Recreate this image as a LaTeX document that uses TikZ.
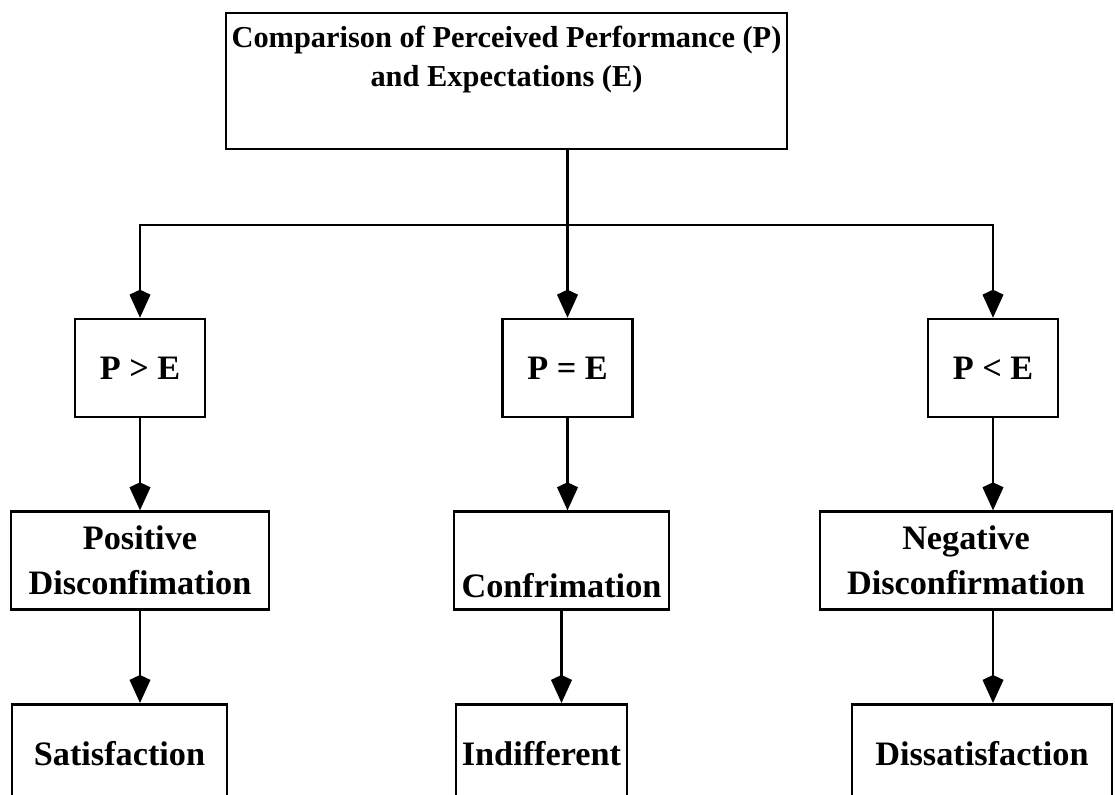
\documentclass[tikz,border=0pt]{standalone}
\usepackage{fontspec}
\setmainfont{Liberation Serif}
\usetikzlibrary{arrows.meta,positioning}

\newcommand{\boxfont}{\fontsize{19.5}{25.5}\selectfont\bfseries}
\newcommand{\headfont}{\fontsize{17.3}{22}\selectfont\bfseries}

\begin{document}
\begin{tikzpicture}[
    node distance=1.84cm,
    align=center,
    box/.style={rectangle, draw=black, line width=1.5pt, inner sep=2pt,
      minimum height=1.96cm, font=\boxfont},
    flow/.style={black, line width=1.5pt,
      -{Kite[length=5.6mm, width=4.2mm, inset=1mm]}}
  ]

  \useasboundingbox (0,0) rectangle (22.3,-15.9);
  \clip (0,0) rectangle (22.3,-15.9);

  % the comparison on top

  \node (cmp) [box, minimum width=11.22cm, minimum height=2.72cm,
               font=\headfont] at (10.13,-1.62)
                                                  {Comparison of Perceived Performance (P)\\
                                                   and Expectations (E)\rule[-0.98cm]{0pt}{0pt}};

  % the three outcomes

  \node (pgt)  [box, minimum width=2.6cm] at (2.8,-7.36)   {P > E};
  \node (peq)  [box, minimum width=2.6cm] at (11.35,-7.36) {P = E};
  \node (plt)  [box, minimum width=2.6cm] at (19.86,-7.36) {P < E};

  \node (pos)  [box, minimum width=5.16cm, below=of pgt]               {Positive\\
                                                                         Disconfimation};
  \node (conf) [box, minimum width=4.3cm,  below=of peq, xshift=-1.2mm] {\rule{0pt}{1.5cm}Confrimation};
  \node (neg)  [box, minimum width=5.84cm, below=of plt, xshift=-5.4mm] {Negative\\
                                                                         Disconfirmation};

  \node (sat)  [box, minimum width=4.3cm,  below=of pos,  xshift=-4.1mm] {Satisfaction};
  \node (ind)  [box, minimum width=3.42cm, below=of conf, xshift=-4mm]   {Indifferent};
  \node (dis)  [box, minimum width=5.2cm,  below=of neg,  xshift=3.2mm]  {Dissatisfaction};

  % connectors

  \coordinate (split) at (0,-4.5);

  \draw[flow] (peq |- cmp.south) -- (peq.north);
  \draw[flow] (peq |- split) -| (pgt.north);
  \draw[flow] (peq |- split) -| (plt.north);

  \draw[flow] (pgt.south) -- (pgt.south |- pos.north);
  \draw[flow] (peq.south) -- (peq.south |- conf.north);
  \draw[flow] (plt.south) -- (plt.south |- neg.north);

  \draw[flow] (pos.south)  -- (pos.south |- sat.north);
  \draw[flow] (conf.south) -- (conf.south |- ind.north);
  \draw[flow] (plt |- neg.south) -- (plt |- dis.north);

\end{tikzpicture}
\end{document}
